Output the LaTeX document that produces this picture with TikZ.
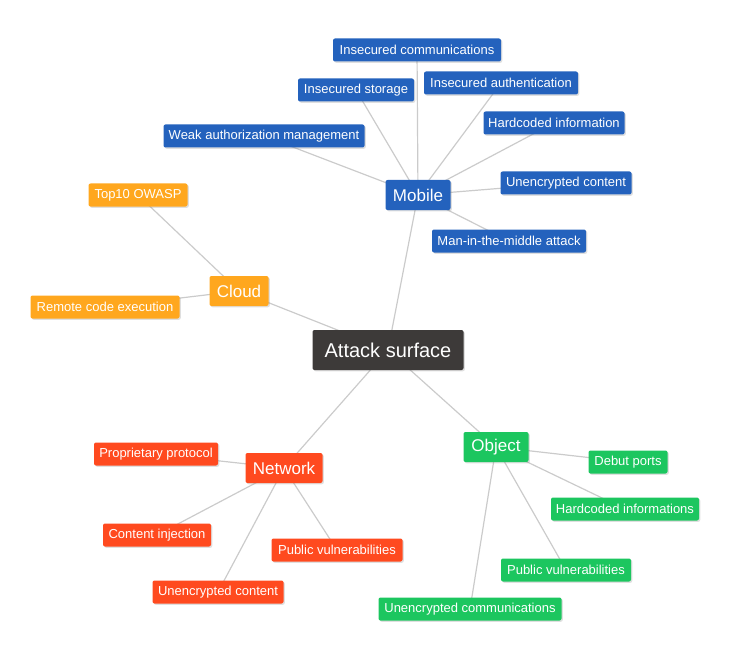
\documentclass[tikz,border=0pt]{standalone}
\usepackage{fontspec}
\setmainfont{Liberation Sans}
\usetikzlibrary{shadows,backgrounds}
\definecolor{mblue}{HTML}{2462BD}
\definecolor{corange}{HTML}{FFA71E}
\definecolor{ndark}{HTML}{3D3A39}
\definecolor{nred}{HTML}{FF4A1F}
\definecolor{ogreen}{HTML}{1CC65F}
\definecolor{edgegray}{HTML}{CBCBCB}
\begin{document}
\begin{tikzpicture}[x=1pt,y=-1pt,
  box/.style={rectangle, rounded corners=2pt, text=white, inner sep=0pt,
    drop shadow={shadow xshift=1.3pt,shadow yshift=-1.3pt,opacity=0.25}},
  leaf/.style={box, minimum height=23pt, font=\fontsize{13}{15}\selectfont},
  hub/.style={box, minimum height=30pt, font=\fontsize{17}{20}\selectfont},
  root/.style={box, minimum height=40pt, minimum width=151pt, font=\fontsize{20}{24}\selectfont},
  link/.style={draw=edgegray, line width=1.2pt}]
\useasboundingbox (0,0) rectangle (734,658);
% root
\node[root, fill=ndark] (root) at (388,350) {Attack surface};
% Mobile
\node[hub, fill=mblue, minimum width=65pt] (mobile) at (418,195) {Mobile};
\node[leaf, fill=mblue, minimum width=168pt] (m1) at (417,50) {Insecured communications};
\node[leaf, fill=mblue, minimum width=116pt] (m2) at (356,90) {Insecured storage};
\node[leaf, fill=mblue, minimum width=154pt] (m3) at (501,83) {Insecured authentication};
\node[leaf, fill=mblue, minimum width=141pt] (m4) at (554,123) {Hardcoded information};
\node[leaf, fill=mblue, minimum width=201pt] (m5) at (264,136) {Weak authorization management};
\node[leaf, fill=mblue, minimum width=131pt] (m6) at (566,183) {Unencrypted content};
\node[leaf, fill=mblue, minimum width=154pt] (m7) at (509,241) {Man-in-the-middle attack};
% Cloud
\node[hub, fill=corange, minimum width=59pt] (cloud) at (239,291) {Cloud};
\node[leaf, fill=corange, minimum width=99pt] (c1) at (138,195) {Top10 OWASP};
\node[leaf, fill=corange, minimum width=149pt] (c2) at (105,307) {Remote code execution};
% Network
\node[hub, fill=nred, minimum width=77pt] (net) at (284,468) {Network};
\node[leaf, fill=nred, minimum width=124pt] (n1) at (156,454) {Proprietary protocol};
\node[leaf, fill=nred, minimum width=108pt] (n2) at (157,535) {Content injection};
\node[leaf, fill=nred, minimum width=131pt] (n3) at (337,550) {Public vulnerabilities};
\node[leaf, fill=nred, minimum width=131pt] (n4) at (218,592) {Unencrypted content};
% Object
\node[hub, fill=ogreen, minimum width=65pt] (obj) at (496,447) {Object};
\node[leaf, fill=ogreen, minimum width=79pt] (o1) at (628,462) {Debut ports};
\node[leaf, fill=ogreen, minimum width=148pt] (o2) at (625,509) {Hardcoded informations};
\node[leaf, fill=ogreen, minimum width=130pt] (o3) at (566,570) {Public vulnerabilities};
\node[leaf, fill=ogreen, minimum width=183pt] (o4) at (470,609) {Unencrypted communications};
% links
\begin{scope}[on background layer]
\foreach \a/\b in {root/mobile,root/cloud,root/net,root/obj,
  mobile/m1,mobile/m2,mobile/m3,mobile/m4,mobile/m5,mobile/m6,mobile/m7,
  cloud/c1,cloud/c2,
  net/n1,net/n2,net/n3,net/n4,
  obj/o1,obj/o2,obj/o3,obj/o4}
  \draw[link] (\a.center) -- (\b.center);
\end{scope}
\end{tikzpicture}
\end{document}
